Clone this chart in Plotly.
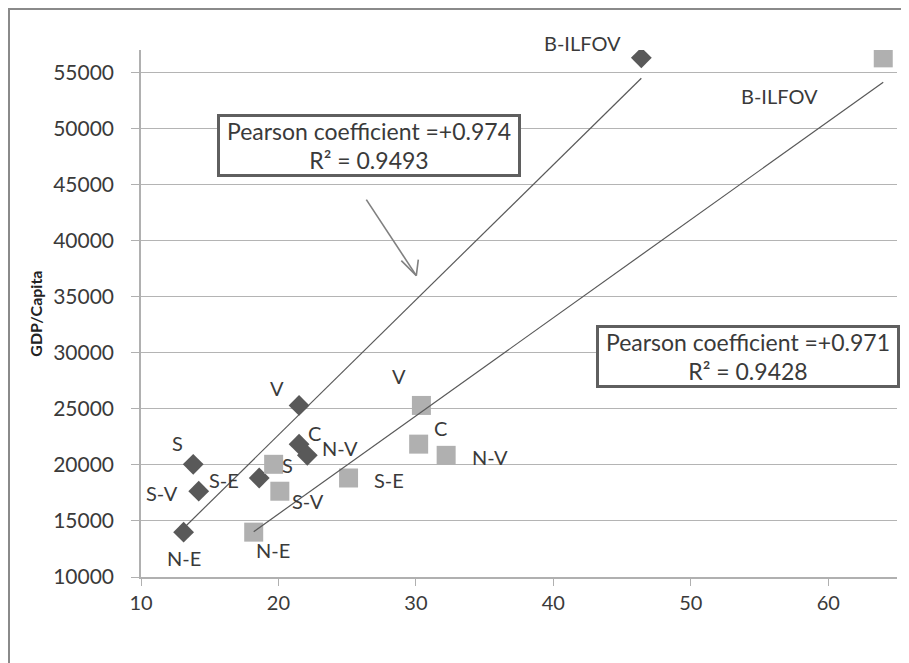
import numpy as np
import plotly.graph_objects as go

# ---- data ----
regions = ["B-ILFOV", "V", "C", "N-V", "S", "S-E", "S-V", "N-E"]
gdp_per_capita = [56300, 25300, 21850, 20850, 20050, 18830, 17650, 14000]
series1_x = [46.4, 21.5, 21.5, 22.1, 13.8, 18.6, 14.2, 13.1]
series2_x = [64.0, 30.4, 30.2, 32.2, 19.65, 25.1, 20.1, 18.2]
x_ticks = [10, 20, 30, 40, 50, 60]
y_ticks = [10000, 15000, 20000, 25000, 30000, 35000, 40000, 45000, 50000, 55000]
stats1 = "Pearson coefficient =+0.974<br>R² = 0.9493"
stats2 = "Pearson coefficient =+0.971<br>R² = 0.9428"

# label offsets (pixels) per point
off1 = [(-59, 15), (-22, 17), (15, 11), (33, 7), (-16, 21), (-35, -2), (-37, -2), (0, -26)]
off2 = [(-104, -38), (-22, 29), (22, 16), (44, -2), (14, -1), (40, -2), (28, -10), (19, -18)]

DARK = "#595959"
LIGHT = "#b0b0b0"
FONT = "Lato"
TXT = "#3a3a3a"

fig = go.Figure()
fig.add_trace(go.Scatter(x=series1_x, y=gdp_per_capita, mode="markers",
                         marker=dict(symbol="diamond", size=16, color=DARK),
                         showlegend=False))
fig.add_trace(go.Scatter(x=series2_x, y=gdp_per_capita, mode="markers",
                         marker=dict(symbol="square", size=19, color=LIGHT),
                         showlegend=False))

# linear trendlines from data
for xs in (series1_x, series2_x):
    xa = np.array(xs)
    ya = np.array(gdp_per_capita)
    m, b = np.polyfit(xa, ya, 1)
    xl = np.array([xa.min(), xa.max()])
    fig.add_trace(go.Scatter(x=xl, y=m * xl + b, mode="lines",
                             line=dict(color=DARK, width=1.2), showlegend=False,
                             hoverinfo="skip"))

ann = []
for xs, offs in ((series1_x, off1), (series2_x, off2)):
    for name, xv, yv, (dx, dy) in zip(regions, xs, gdp_per_capita, offs):
        ann.append(dict(x=xv, y=yv, xref="x", yref="y", text=name, showarrow=False,
                        xshift=dx, yshift=dy, font=dict(family=FONT, size=20, color=TXT)))

ann.append(dict(x=0.3016, y=0.8188, xref="paper", yref="paper", text=stats1,
                showarrow=False, xanchor="center", yanchor="middle",
                width=296, height=55, bgcolor="white", bordercolor="#5f5f5f",
                borderwidth=3, borderpad=1, font=dict(family=FONT, size=23, color=TXT)))
ann.append(dict(x=0.803, y=0.4175, xref="paper", yref="paper", text=stats2,
                showarrow=False, xanchor="center", yanchor="middle",
                width=296, height=55, bgcolor="white", bordercolor="#5f5f5f",
                borderwidth=3, borderpad=1, font=dict(family=FONT, size=23, color=TXT)))
ann.append(dict(x=-0.140, y=0.5, xref="paper", yref="paper", text="<b>GDP/Capita</b>",
                showarrow=False, textangle=-90, xanchor="center", yanchor="middle",
                font=dict(family=FONT, size=16, color="#222")))

# arrow pointing to first trendline
tip_x, tip_y = 30.03, 36880
shapes = []
for (x0, y0) in ((-50, 76), (-15, 15), (2, 16)):
    shapes.append(dict(type="line", xref="x", yref="y", xsizemode="pixel", ysizemode="pixel",
                       xanchor=tip_x, yanchor=tip_y, x0=x0, y0=y0, x1=0, y1=0,
                       line=dict(color="#808080", width=1.6)))
# outer chart-area border
shapes.append(dict(type="rect", xref="paper", yref="paper", x0=-0.1746, x1=1.2,
                   y0=-0.4, y1=1.0778, line=dict(color="#8a8a8a", width=2),
                   fillcolor="rgba(0,0,0,0)", layer="below"))

fig.update_layout(
    width=909, height=663,
    margin=dict(l=133, r=20, t=42, b=94),
    paper_bgcolor="white", plot_bgcolor="white",
    annotations=ann, shapes=shapes, showlegend=False,
    xaxis=dict(range=[10, 65], tickvals=x_ticks, showgrid=False, zeroline=False,
               showline=True, linecolor="#b0b0b0", linewidth=1.5,
               ticks="outside", ticklen=7, tickcolor="#b0b0b0",
               tickfont=dict(family=FONT, size=20, color=TXT)),
    yaxis=dict(range=[10000, 57000], tickvals=y_ticks, tickformat="d",
               showgrid=True, gridcolor="#b4b4b4", gridwidth=1, zeroline=False,
               showline=True, linecolor="#b0b0b0", linewidth=1.5,
               ticks="outside", ticklen=8, tickcolor="#b0b0b0",
               ticklabelstandoff=13,
               tickfont=dict(family=FONT, size=21, color=TXT)),
)

fig.write_html("out.html")
